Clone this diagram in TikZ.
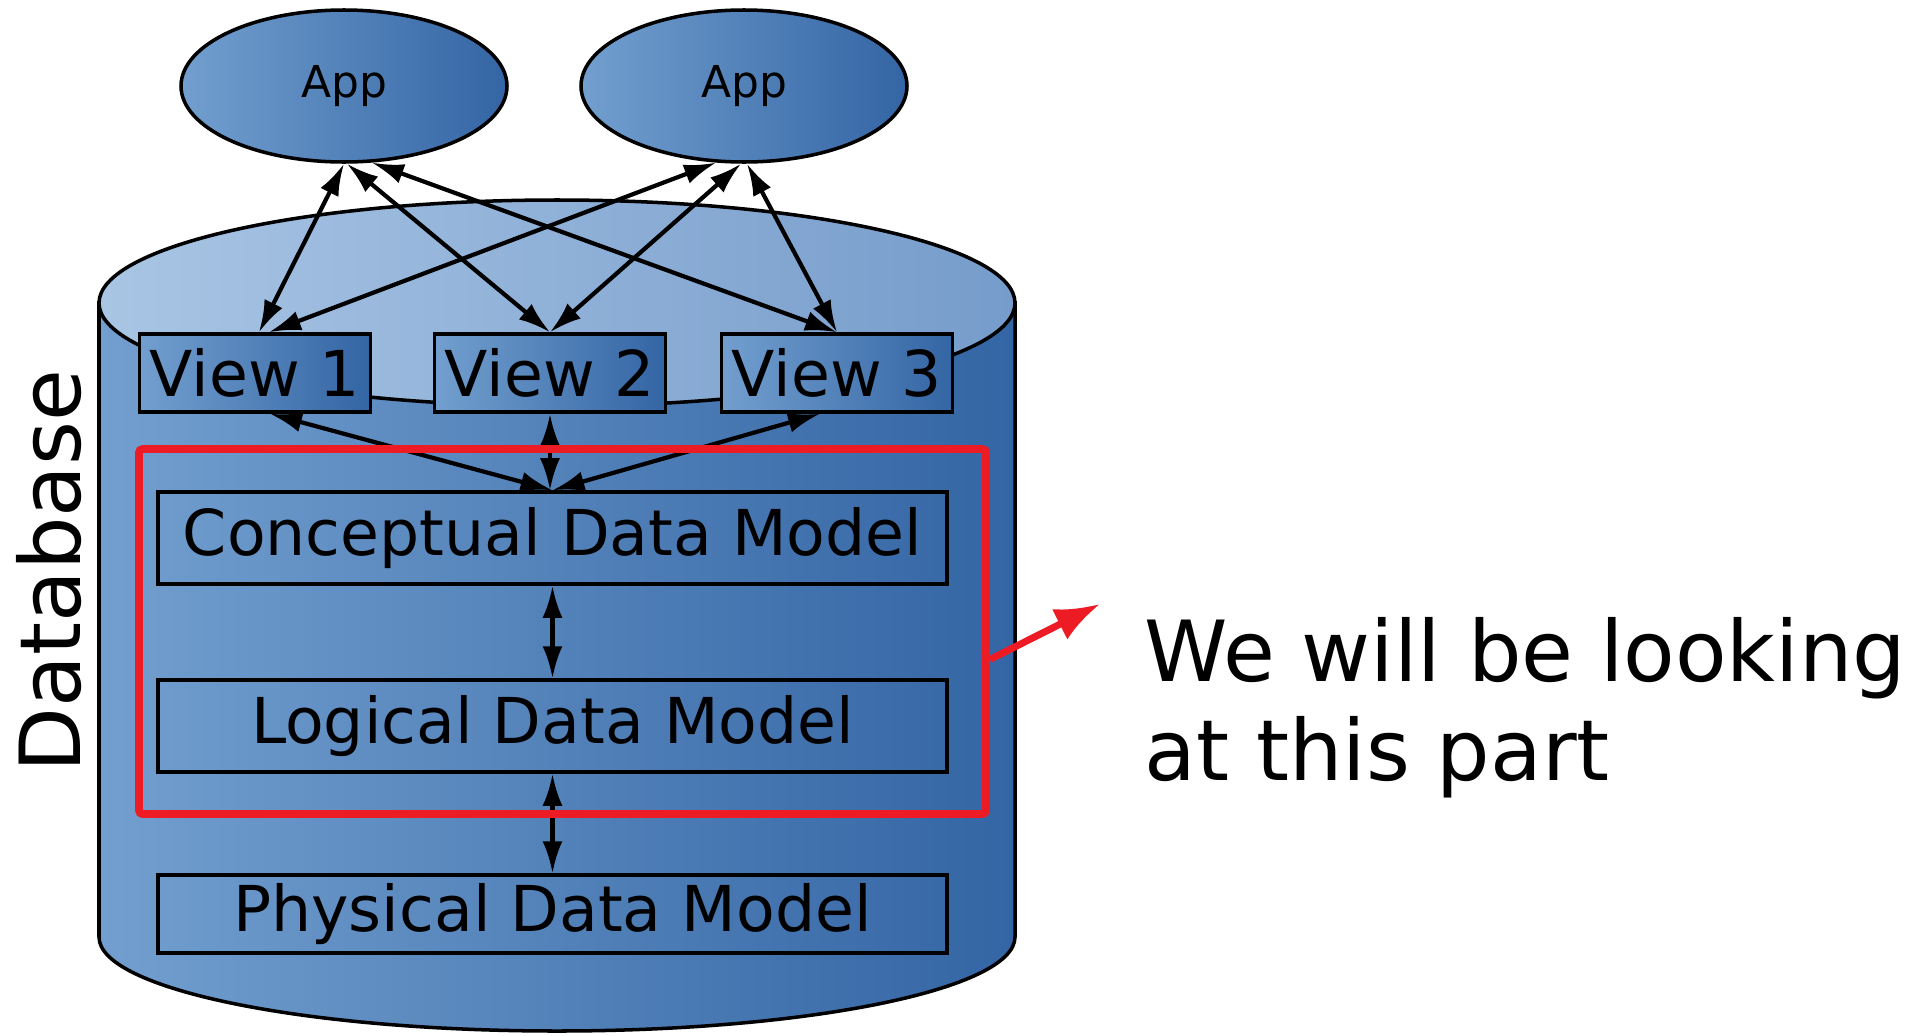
\documentclass[tikz,border=0pt]{standalone}
\usepackage{fontspec}
\setmainfont{DejaVu Sans}
\usetikzlibrary{arrows.meta,shapes.geometric}

\definecolor{skyA}{HTML}{729FCF}
\definecolor{skyB}{HTML}{3465A4}
\definecolor{capA}{HTML}{A9C5E4}
\definecolor{capB}{HTML}{769CCB}
\definecolor{hlred}{HTML}{ED1C24}

\tikzset{
  app/.style={ellipse, draw, line width=1pt, left color=skyA, right color=skyB,
    minimum width=3.26cm, minimum height=1.52cm, font=\fontsize{12.5}{15}\selectfont},
  viewbox/.style={draw, line width=1pt, left color=skyA, right color=skyB,
    minimum width=2.31cm, minimum height=0.78cm, inner sep=0pt, font=\fontsize{18}{21}\selectfont},
  layer/.style={draw, line width=1pt, minimum width=7.89cm, inner sep=0pt,
    font=\fontsize{18}{21}\selectfont},
  link/.style={{Latex[length=0.32cm,width=0.2cm]}-{Latex[length=0.32cm,width=0.2cm]}, line width=1.2pt},
  focus/.style={draw=hlred, line width=2.2pt, rounded corners=1pt,
    minimum width=8.47cm, minimum height=3.65cm, inner sep=0pt},
  pointer/.style={-{Latex[length=0.45cm,width=0.34cm]}, draw=hlred, line width=2pt}
}

\begin{document}
\begin{tikzpicture}
\useasboundingbox (0,0) rectangle (19.25,10.35);

% the database drum
\draw[line width=1pt, left color=skyA, right color=skyB]
  (0.99,7.32) -- (0.99,0.98) arc[start angle=180, end angle=360, x radius=4.58, y radius=0.94]
  -- (10.15,7.32) -- cycle;
\draw[line width=1pt, left color=capA, right color=capB] (5.57,7.32) ellipse [x radius=4.58, y radius=1.03];

% apps on top
\node[app] (app1) at (3.44,9.49) {App};
\node[app] (app2) at (7.44,9.49) {App};

% views
\node[viewbox] (view1) at (2.55,6.62) {View 1};
\node[viewbox] (view2) at (5.50,6.62) {View 2};
\node[viewbox] (view3) at (8.37,6.62) {View 3};

% model layers
\node[layer, minimum height=0.92cm] (conc) at (5.525,4.97) {Conceptual Data Model};
\node[layer, minimum height=0.92cm] (logic) at (5.525,3.09) {Logical Data Model};
\node[layer, minimum height=0.78cm] (phys) at (5.525,1.21) {Physical Data Model};

% app <-> view
\draw[link] (app1.south) -- ([xshift=0.04cm]view1.north);
\draw[link] ([xshift=0.03cm]app1.south) -- (view2.north);
\draw[link] (app1.-70) -- (view3.north);
\draw[link] (app2.-110) -- ([xshift=0.14cm]view1.north);
\draw[link] ([xshift=-0.03cm]app2.south) -- (view2.north);
\draw[link] ([xshift=0.03cm]app2.south) -- (view3.north);

% view <-> conceptual, then down the stack
\draw[link] ([xshift=0.15cm]view1.south) -- (conc.north);
\draw[link] (view2.south) -- (view2.south |- conc.north);
\draw[link] ([xshift=-0.17cm]view3.south) -- (conc.north);
\draw[link] (conc) -- (logic);
\draw[link] (logic) -- (phys);

% highlighted part
\node[focus] (part) at (5.625,4.035) {};
\coordinate (tip) at (11.0,4.31);
\draw[pointer] ([yshift=-0.28cm]part.east) -- (tip);

\node[rotate=90, anchor=base, inner sep=0pt, font=\fontsize{24}{28}\selectfont] (dbname) at (0.80,4.64) {Database};
\node[anchor=base west, align=left, inner sep=0pt, font=\fontsize{24}{28}\selectfont] (note) at (11.44,2.55)
  {We will be looking\\at this part};
\end{tikzpicture}
\end{document}
